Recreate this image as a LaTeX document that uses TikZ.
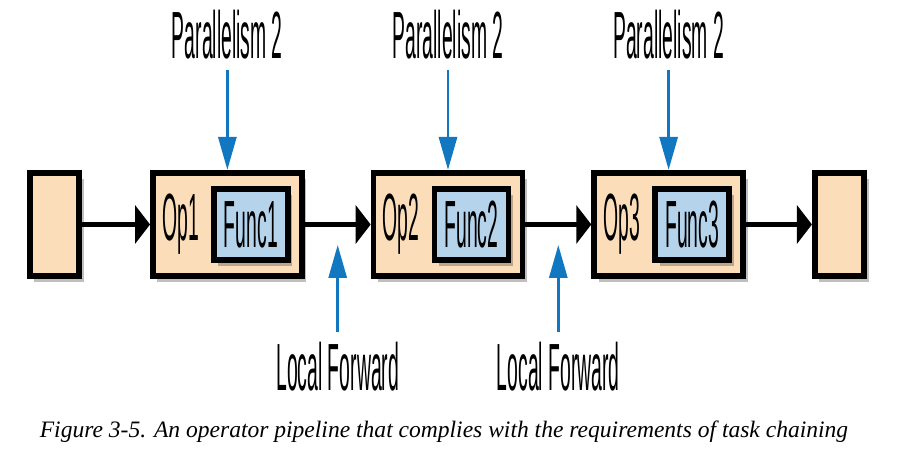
\documentclass[tikz,border=0pt]{standalone}
\usepackage{fontspec}
\usepackage{tikz}
\usetikzlibrary{arrows.meta,positioning,calc,shadows}
\newfontfamily\condfont[FakeStretch=0.29]{Liberation Sans}
\newfontfamily\capfont{Liberation Serif}
\definecolor{optan}{HTML}{FCDDBA}
\definecolor{fnblue}{HTML}{B5D4EC}
\definecolor{hintblue}{HTML}{1177C0}

\begin{document}
\begin{tikzpicture}[
    node distance=1.36cm,
    opbox/.style={rectangle, draw=black, line width=3.2pt, fill=optan, minimum width=2.98cm, minimum height=2.07cm,
        drop shadow={shadow xshift=0.09cm, shadow yshift=-0.12cm, fill=black, opacity=0.25}},
    endbox/.style={opbox, minimum width=0.99cm},
    fnbox/.style={rectangle, draw=black, line width=3.2pt, fill=fnblue, minimum width=1.48cm, minimum height=1.42cm,
        font=\condfont\fontsize{38}{38}\selectfont,
        drop shadow={shadow xshift=0.09cm, shadow yshift=-0.12cm, fill=black, opacity=0.25}},
    lbl/.style={inner sep=0.1cm, font=\condfont\fontsize{38}{38}\selectfont},
    flow/.style={-{Triangle[length=0.3cm, width=0.76cm]}, line width=3pt},
    hint/.style={-{Triangle[length=0.66cm, width=0.36cm]}, line width=1.7pt, hintblue, shorten <=0.1cm},
]
    \useasboundingbox (0,0) rectangle (18,9.36);

    \node[endbox] (src) at (1.09,4.87) {};
    \node[opbox, right=of src] (op1) {};
    \node[opbox, right=1.32cm of op1] (op2) {};
    \node[opbox, right=1.32cm of op2] (op3) {};
    \node[endbox, right=1.32cm of op3] (snk) {};

    \node[fnbox, left=0.28cm of op1.east] (fn1) {Func1};
    \node[fnbox, left=0.28cm of op2.east] (fn2) {Func2};
    \node[fnbox, left=0.28cm of op3.east] (fn3) {Func3};

    \node[lbl] at ($(op1.west)!0.5!(fn1.west)$) (opl1) {Op1};
    \node[lbl] at ($(op2.west)!0.5!(fn2.west)$) (opl2) {Op2};
    \node[lbl] at ($(op3.west)!0.5!(fn3.west)$) (opl3) {Op3};

    \draw[flow] (src) -- (op1);
    \draw[flow] (op1) -- (op2);
    \draw[flow] (op2) -- (op3);
    \draw[flow] (op3) -- (snk);

    \node[lbl, above=2.1cm of op1] (par1) {Parallelism 2};
    \node[lbl, above=2.1cm of op2] (par2) {Parallelism 2};
    \node[lbl, above=2.1cm of op3] (par3) {Parallelism 2};
    \draw[hint] (par1) -- (op1);
    \draw[hint] (par2) -- (op2);
    \draw[hint] (par3) -- (op3);

    \coordinate (fw1) at ($($(op1.east)!0.5!(op2.west)$)+(0,-0.41)$);
    \coordinate (fw2) at ($($(op2.east)!0.5!(op3.west)$)+(0,-0.41)$);
    \node[lbl, below=1.84cm of fw1] (lf1) {Local Forward};
    \node[lbl, below=1.84cm of fw2] (lf2) {Local Forward};
    \draw[hint] (lf1) -- (fw1);
    \draw[hint] (lf2) -- (fw2);

    \node[font=\capfont\itshape\fontsize{13.4}{13.4}\selectfont] (cap) at (8.88,0.72)
        {Figure 3-5. An operator pipeline that complies with the requirements of task chaining};
\end{tikzpicture}
\end{document}
